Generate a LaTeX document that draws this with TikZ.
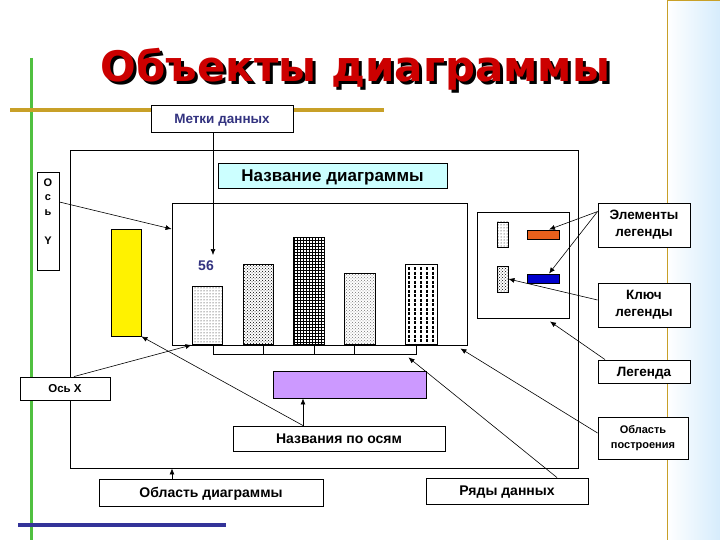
\documentclass[tikz,border=0pt]{standalone}
\usepackage{fontspec}
\setmainfont{Liberation Sans}
\newfontfamily\titlefont{DejaVu Sans}
\usetikzlibrary{arrows.meta,patterns}
\definecolor{titlered}{RGB}{204,0,0}
\definecolor{navy}{RGB}{51,51,128}
\definecolor{gold}{RGB}{200,160,40}
\definecolor{barblue}{RGB}{0,0,204}
\definecolor{barorange}{RGB}{232,96,28}
\definecolor{lilac}{RGB}{204,153,255}
\definecolor{paleblue}{RGB}{204,255,255}
\definecolor{panelblue}{RGB}{214,236,252}
\definecolor{linegreen}{RGB}{80,192,64}
\definecolor{lineblue}{RGB}{51,51,153}
\newcommand\shadowed[1]{\makebox[0pt][l]{\kern3pt\raisebox{-3pt}{\color{black}#1}}\textcolor{titlered}{#1}}

\begin{document}
\begin{tikzpicture}[x=1pt, y=-1pt,
    box/.style={draw, line width=0.9pt, fill=white, inner sep=0pt},
    lbl/.style={box, font=\bfseries\fontsize{13.5}{17}\selectfont, align=center},
    oneline/.style={text depth=0pt},
    bar/.style={draw, line width=0.9pt, inner sep=0pt, minimum width=30pt, anchor=south},
    ttl/.style={font=\titlefont\bfseries\fontsize{42}{42}\selectfont, anchor=base},
    arr/.style={-{Latex[length=6pt,width=5pt]}, line width=0.6pt}]
  \useasboundingbox (0,0) rectangle (720,540);

  % background of the slide
  \shade[left color=white, right color=panelblue] (667,0) rectangle (720,540);
  \draw[gold, line width=1pt] (667,540) -- (667,1) -- (720,1);
  \draw[linegreen, line width=3.5pt] (31.5,58) -- (31.5,540);
  \draw[gold, line width=3.5pt] (10,110) -- (384,110);
  \draw[lineblue, line width=3.5pt] (18,525) -- (226,525);

  \node[ttl] (title) at (355.5,82) {\shadowed{Объекты диаграммы}};

  % chart
  \node[box, minimum width=508pt, minimum height=318pt] (chart) at (324,309) {};
  \node[box, oneline, fill=paleblue, minimum width=229pt, minimum height=25pt,
        font=\bfseries\fontsize{17}{17}\selectfont] (ctitle) at (332.5,175.5) {Название диаграммы};
  \node[box, minimum width=295pt, minimum height=142pt] (plot) at (319.5,274) {};
  \node[box, fill=yellow, minimum width=30pt, minimum height=107pt] (yellowbar) at (126,282.5) {};

  \node[bar, minimum height=58pt, pattern=dots] (bar1) at (207,345) {};
  \node[bar, minimum height=80pt, pattern=crosshatch dots] (bar2) at (258,345) {};
  \node[bar, minimum width=31pt, minimum height=107pt, pattern=grid] (bar3) at (308.5,345) {};
  \node[bar, minimum width=31pt, minimum height=71pt, pattern=crosshatch dots,
        pattern color=black!55] (bar4) at (359.5,345) {};
  \foreach \x in {409,415,...,433}
    \draw[line width=1.8pt, dash pattern=on 3pt off 1.5pt] (\x,267) -- (\x,345);
  \node[bar, minimum width=32pt, minimum height=80pt] (bar5) at (421,345) {};

  \node[box, minimum width=203pt, minimum height=9pt] (xaxis) at (314.5,349.5) {};
  \foreach \x in {263,314,354}
    \draw[line width=0.9pt] (\x,345) -- (\x,354);
  \node[font=\bfseries\fontsize{14}{14}\selectfont, text=navy] (v56) at (206,266) {56};
  \coordinate (t56) at (213,255);

  % legend
  \node[box, minimum width=92pt, minimum height=106pt] (legend) at (523,265) {};
  \node[draw, line width=0.9pt, inner sep=0pt, pattern=dots,
        minimum width=11pt, minimum height=25pt] (key1) at (502.5,234.5) {};
  \node[draw, line width=0.9pt, inner sep=0pt, pattern=crosshatch dots,
        minimum width=11pt, minimum height=26pt] (key2) at (502.5,279) {};
  \node[box, fill=barorange, minimum width=32pt, minimum height=9pt] (elemO) at (543,234.5) {};
  \node[box, fill=barblue, minimum width=32pt, minimum height=9pt] (elemB) at (543,278.5) {};

  \node[box, fill=lilac, minimum width=153pt, minimum height=27pt] (axtitle) at (349.5,384.5) {};

  % callouts
  \node[lbl, oneline, text=navy, minimum width=142pt, minimum height=27pt] (metki) at (222,118.5) {Метки данных};
  \node[box, minimum width=22pt, minimum height=98pt] (osY) at (48,221) {};
  \node[font=\bfseries\fontsize{11}{14.5}\selectfont, align=center, inner sep=0pt, anchor=north]
        (osYtext) at ([yshift=-7pt]osY.north) {О\\с\\ь\\[14.5pt]Y};
  \node[lbl, oneline, font=\bfseries\fontsize{11.5}{14}\selectfont, minimum width=90pt, minimum height=23pt] (osX) at (65,388.5) {Ось X};
  \node[lbl, oneline, font=\bfseries\fontsize{14}{14}\selectfont, minimum width=212pt, minimum height=25pt] (axLbl) at (339,438.5) {Названия по осям};
  \node[lbl, oneline, font=\bfseries\fontsize{14}{14}\selectfont, minimum width=224pt, minimum height=27pt] (areaLbl) at (211,492.5) {Область диаграммы};
  \node[lbl, oneline, font=\bfseries\fontsize{14}{14}\selectfont, minimum width=162pt, minimum height=26pt] (seriesLbl) at (507,491) {Ряды данных};
  \node[lbl, minimum width=92pt, minimum height=44pt] (elemLbl) at (644,225) {Элементы\\легенды};
  \node[lbl, minimum width=92pt, minimum height=44pt] (keyLbl) at (644,305) {Ключ\\легенды};
  \node[lbl, oneline, minimum width=92pt, minimum height=23pt] (legLbl) at (644,371.5) {Легенда};
  \node[lbl, font=\bfseries\fontsize{11}{15}\selectfont, minimum width=90pt, minimum height=42pt] (plotLbl) at (643,438) {Область\\построения};

  \coordinate (axs) at ([xshift=-36pt]axLbl.north);
  \coordinate (ars) at ([xshift=-39pt]areaLbl.north);
  \coordinate (els) at ([yshift=-9pt]elemLbl.north west);

  \draw[arr] (t56 |- metki.south) -- (t56);
  \draw[arr] ([yshift=19pt]osY.east) -- ([yshift=45pt]plot.west);
  \draw[arr] ([xshift=9pt]osX.north) -- (bar1.south west);
  \draw[arr] (axs) -- (yellowbar.south east);
  \draw[arr] (axs) -- (axs |- axtitle.south);
  \draw[arr] (ars) -- (ars |- chart.south);
  \draw[arr] ([xshift=50pt]seriesLbl.north) -- ([xshift=-8pt,yshift=-3pt]xaxis.south east);
  \draw[arr] ([yshift=5pt]plotLbl.west) -- ([xshift=-7pt,yshift=-3pt]plot.south east);
  \draw[arr] ([xshift=-39pt]legLbl.north) -- ([xshift=27pt,yshift=-3pt]legend.south);
  \draw[arr] ([yshift=5pt]keyLbl.west) -- (key2.east);
  \draw[arr] (els) -- ([xshift=6pt]elemO.north);
  \draw[arr] (els) -- ([xshift=6pt]elemB.north);
\end{tikzpicture}
\end{document}
